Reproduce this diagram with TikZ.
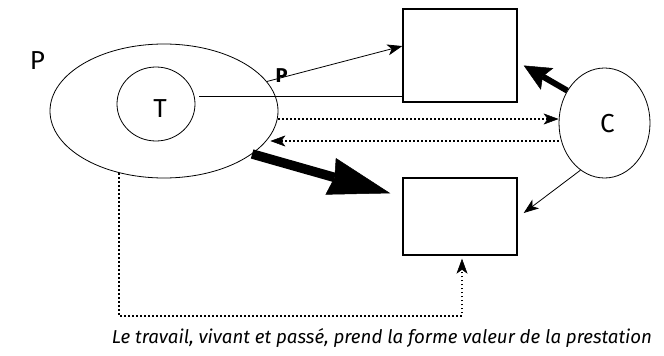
\documentclass[tikz,border=0pt]{standalone}
\usepackage{fontspec}
\setmainfont{Fira Sans}
\usetikzlibrary{arrows.meta,shapes.geometric,calc}

\tikzset{
  oval/.style={draw, ellipse, line width=0.8pt, inner sep=0pt},
  box/.style={draw, rectangle, line width=1.4pt, inner sep=0pt},
  biglabel/.style={font=\fontsize{26}{26}\selectfont, inner sep=0pt},
  thinarrow/.style={line width=0.8pt, -{Stealth[length=15pt 0,width=11pt 0,inset=4pt 0]}},
  dotline/.style={line width=1.6pt, dash pattern=on 1.6pt off 2.4pt},
  dotarrow/.style={dotline, -{Stealth[length=15pt 0,width=11pt 0,inset=4pt 0,line width=0.5pt]}},
  fatarrow/.style={line width=9.5pt, -{Stealth[length=62pt 0,width=38pt 0,inset=4pt 0,line width=0.5pt]}},
  midarrow/.style={line width=6pt, -{Stealth[length=27pt 0,width=25pt 0,inset=5pt 0,line width=0.5pt]}},
}

\begin{document}
\begin{tikzpicture}[x=1pt, y=-1pt]
  \useasboundingbox (0,0) rectangle (664,356);

  % the enterprise P and the labour T inside it
  \node[oval, minimum width=228pt, minimum height=134pt] (P) at (164,111) {};
  \node[oval, minimum width=78pt, minimum height=74pt] (T) at (156,104) {};
  \node[biglabel] (Plab) at (37.5,61) {P};
  \node[biglabel] (Tlab) at (160,109) {T};

  % the two boxes and the client C
  \node[box, minimum width=114pt, minimum height=93pt] (R1) at (460,55.5) {};
  \node[box, minimum width=114pt, minimum height=77pt] (R2) at (460,216.5) {};
  \node[oval, minimum width=91pt, minimum height=110pt] (C) at (604.5,123) {};
  \node[biglabel] (Clab) at (607.5,124) {C};

  % anchor points on the boxes
  \coordinate (R1in) at ($(R1.north west)!0.40!(R1.south west)$);
  \coordinate (R1low) at ($(R1.north west)!0.935!(R1.south west)$);
  \coordinate (R1c) at ([xshift=6pt,yshift=-10pt]R1.east);
  \coordinate (R2tip) at ([xshift=-12pt,yshift=-16pt]R2.north west);
  \coordinate (R2c) at ([xshift=6pt,yshift=3.5pt]R2.east);
  \coordinate (R2in) at ([xshift=2pt,yshift=-3pt]R2.south);

  % P to the upper box
  \draw[thinarrow] (P.16) -- (R1in);
  \node[font=\bfseries\fontsize{20}{20}\selectfont, inner sep=0pt] (pbold) at (281.5,75.5) {P};

  % T to the upper box
  \draw[line width=1.8pt] ([xshift=4pt]T.east |- R1low) -- (R1low);

  % exchanges between P and C
  \draw[dotarrow] ([yshift=-8pt]P.east) -- ([yshift=4pt]C.west);
  \draw[dotarrow] ([yshift=-18pt]C.west) -- ([xshift=-8pt,yshift=-30pt]P.east);

  % P to the lower box
  \draw[fatarrow] (P.-26.3) -- (R2tip);

  % C to both boxes
  \draw[midarrow] (C.139) -- (R1c);
  \draw[thinarrow] (C.243) -- (R2c);

  % return path from P to the lower box
  \draw[dotarrow] (P.234) |- ($(R2in)+(0,57)$) -- (R2in);

  % caption
  \node[font=\itshape\fontsize{18.7}{18.7}\selectfont, anchor=base, inner sep=0pt] (cap) at (382,343)
    {Le travail, vivant et passé, prend la forme valeur de la prestation};
\end{tikzpicture}
\end{document}
